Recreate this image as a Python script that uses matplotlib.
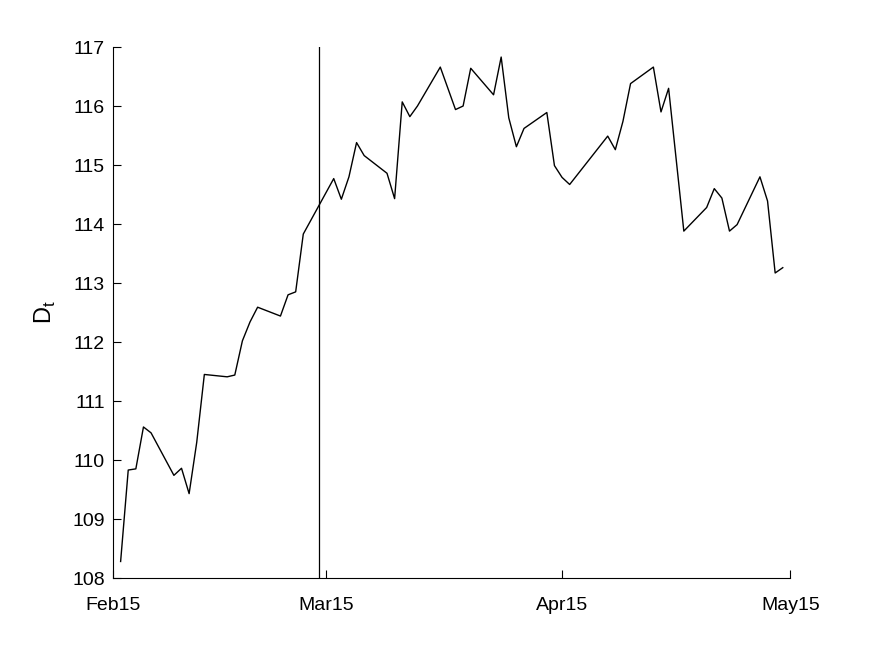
import datetime as dt
import matplotlib
matplotlib.use("Agg")
import matplotlib.pyplot as plt
import matplotlib.dates as mdates

# trading days (2015) and series values
days = ["02-16", "02-17", "02-18", "02-19", "02-20",
        "02-23", "02-24", "02-25", "02-26", "02-27",
        "03-02", "03-03", "03-04", "03-05", "03-06",
        "03-09", "03-10", "03-11", "03-12",
        "03-16", "03-17", "03-18", "03-19", "03-20",
        "03-23", "03-24", "03-25", "03-26", "03-27",
        "03-30", "04-01", "04-02", "04-03",
        "04-06", "04-07", "04-08", "04-09", "04-10",
        "04-13", "04-14", "04-15", "04-16",
        "04-21", "04-22", "04-23", "04-24",
        "04-27", "04-28", "04-29", "05-01",
        "05-04", "05-05", "05-06", "05-07", "05-08",
        "05-11", "05-12", "05-13", "05-14"]
values = [108.28, 109.83, 109.85, 110.56, 110.46,
          109.74, 109.86, 109.43, 110.30, 111.45,
          111.41, 111.44, 112.02, 112.34, 112.59,
          112.44, 112.80, 112.85, 113.83,
          114.77, 114.42, 114.80, 115.38, 115.16,
          114.86, 114.43, 116.07, 115.82, 116.00,
          116.66, 115.94, 116.00, 116.64,
          116.19, 116.83, 115.80, 115.31, 115.62,
          115.89, 114.99, 114.79, 114.67,
          115.49, 115.26, 115.74, 116.38,
          116.66, 115.90, 116.30, 113.88,
          114.28, 114.60, 114.44, 113.88, 113.99,
          114.80, 114.39, 113.17, 113.26]
marker_day = "03-14"
tick_days = ["02-15", "03-15", "04-15", "05-15"]
yticks = list(range(108, 118))


def to_date(s):
    return dt.datetime.strptime("2015-" + s, "%Y-%m-%d")


plt.rcParams['font.family'] = ['Liberation Sans', 'DejaVu Sans']

fig = plt.figure(figsize=(8.72, 6.54), dpi=100)
ax = fig.add_axes([0.1296, 0.1162, 0.7768, 0.8119])

x = [to_date(d) for d in days]
ax.plot(x, values, color='black', linewidth=1.0)
ax.axvline(to_date(marker_day), color='black', linewidth=0.9)

ax.set_xlim(to_date(tick_days[0]), to_date(tick_days[-1]))
ax.set_ylim(108, 117)
ax.set_xticks([to_date(d) for d in tick_days])
ax.xaxis.set_major_formatter(mdates.DateFormatter('%b%d'))
ax.set_yticks(yticks)

ax.spines['top'].set_visible(False)
ax.spines['right'].set_visible(False)
for s in ['left', 'bottom']:
    ax.spines[s].set_linewidth(0.8)
ax.tick_params(direction='in', length=6, width=0.8, labelsize=14)
ax.tick_params(axis='y', pad=6)
ax.tick_params(axis='x', pad=13.5)
ax.set_ylabel('D$_\\mathregular{t}$', fontsize=17, labelpad=10)

fig.savefig('out.png', dpi=100)
